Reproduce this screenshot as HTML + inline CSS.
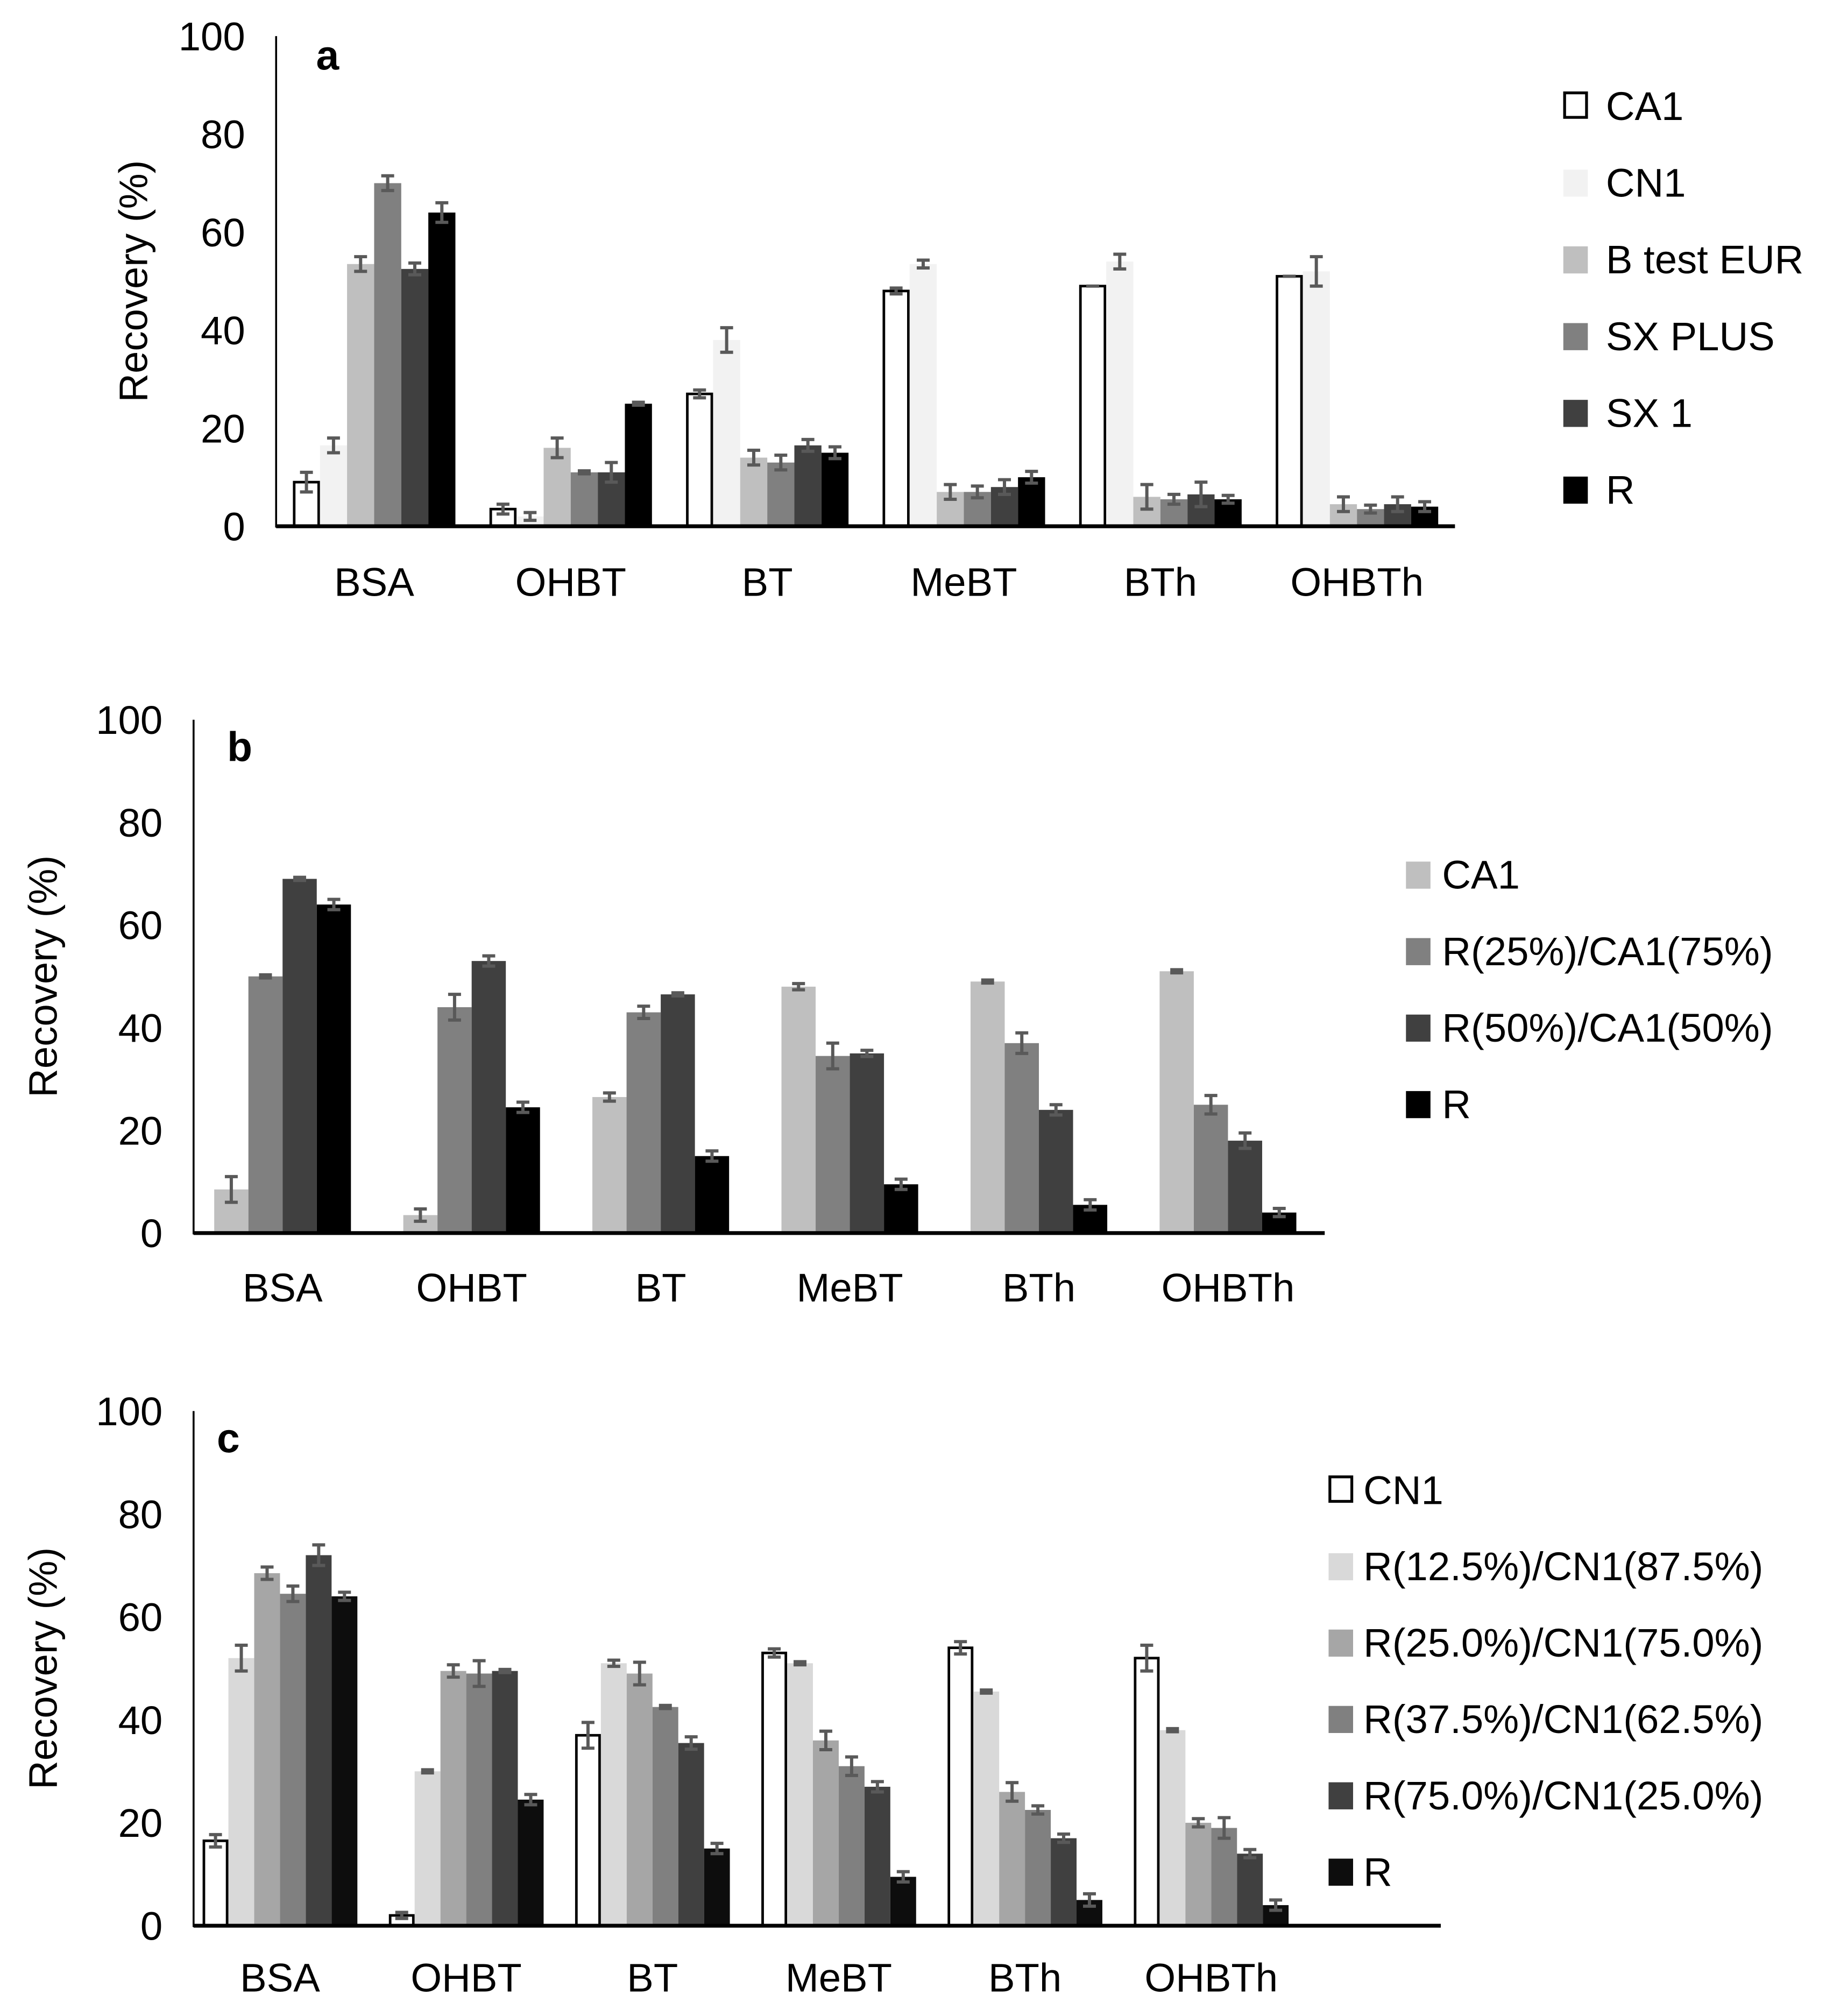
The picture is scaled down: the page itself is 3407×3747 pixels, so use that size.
<!DOCTYPE html>
<html><head><meta charset="utf-8">
<style>
html,body{margin:0;padding:0;background:#fff;}
svg{display:block;font-family:"Liberation Sans",Arial,sans-serif;}
</style></head>
<body>
<svg id="fig" width="3407" height="3747" viewBox="0 0 1421 1563" xmlns="http://www.w3.org/2000/svg"></svg>
<script>
// ---------- data ----------
const categories = ["BSA","OHBT","BT","MeBT","BTh","OHBTh"];
const yTicks = [0,20,40,60,80,100];

const seriesA = ["CA1","CN1","B test EUR","SX PLUS","SX 1","R"];
const valuesA = [
  [9,3.5,27,48,49,51],
  [16.5,2,38,53.5,54,52],
  [53.5,16,14,7,6,4.5],
  [70,11,13,7,5.5,3.5],
  [52.5,11,16.5,8,6.5,4.5],
  [64,25,15,10,5.5,4]
];
const errorsA = [
  [2,1,0.8,0.6,0,0],
  [1.5,0.8,2.5,0.8,1.5,3],
  [1.5,2,1.5,1.5,2.5,1.5],
  [1.5,0.3,1.5,1.2,1,0.8],
  [1.2,2,1.2,1.5,2.5,1.5],
  [2,0.3,1.2,1.2,0.8,1]
];
const seriesB = ["CA1","R(25%)/CA1(75%)","R(50%)/CA1(50%)","R"];
const valuesB = [
  [8.5,3.5,26.5,48,49,51],
  [50,44,43,34.5,37,25],
  [69,53,46.5,35,24,18],
  [64,24.5,15,9.5,5.5,4]
];
const errorsB = [
  [2.5,1.2,0.8,0.6,0.3,0.3],
  [0.3,2.5,1.2,2.5,2,1.8],
  [0.3,1,0.3,0.6,1,1.5],
  [1,1,1,1,1,0.8]
];
const seriesC = ["CN1","R(12.5%)/CN1(87.5%)","R(25.0%)/CN1(75.0%)","R(37.5%)/CN1(62.5%)","R(75.0%)/CN1(25.0%)","R"];
const valuesC = [
  [16.5,2,37,53,54,52],
  [52,30,51,51,45.5,38],
  [68.5,49.5,49,36,26,20],
  [64.5,49,42.5,31,22.5,19],
  [72,49.5,35.5,27,17,14],
  [64,24.5,15,9.5,5,4]
];
const errorsC = [
  [1.2,0.6,2.5,0.8,1.2,2.5],
  [2.5,0.3,0.6,0.3,0.3,0.3],
  [1.2,1.2,2.2,1.8,1.8,0.8],
  [1.5,2.5,0.3,1.8,0.8,2],
  [2,0.3,1.2,1,0.8,0.8],
  [0.8,1,1,1,1.2,1]
];

const colorsA = ["#ffffff","#f2f2f2","#bfbfbf","#808080","#404040","#000000"];
const colorsB = ["#bfbfbf","#808080","#404040","#000000"];
const colorsC = ["#ffffff","#d9d9d9","#a6a6a6","#808080","#404040","#0d0d0d"];

// ---------- layout ----------
const panels = [
  {id:"a", series:seriesA, values:valuesA, errors:errorsA, colors:colorsA,
   ax:214, y0:408, y100:28, xEnd:1128, c0:290, step:152.4, bw:21,
   ylabX:103, catY:451, letterX:245, letterY:54,
   legX:1212, legTX:1245, legY0:82, legStep:59.5},
  {id:"b", series:seriesB, values:valuesB, errors:errorsB, colors:colorsB,
   ax:150, y0:956, y100:558, xEnd:1027, c0:219, step:146.6, bw:26.5,
   ylabX:33, catY:998, letterX:176, letterY:590,
   legX:1090, legTX:1118, legY0:678, legStep:59.3},
  {id:"c", series:seriesC, values:valuesC, errors:errorsC, colors:colorsC,
   ax:150, y0:1493, y100:1094, xEnd:1117, c0:217, step:144.4, bw:20,
   ylabX:33, catY:1533, letterX:168, letterY:1126,
   legX:1030, legTX:1057, legY0:1155, legStep:59.2}
];

const NS="http://www.w3.org/2000/svg";
const svg=document.getElementById("fig");
function mk(tag,attrs,parent){const e=document.createElementNS(NS,tag);for(const k in attrs)e.setAttribute(k,attrs[k]);(parent||svg).appendChild(e);return e;}

panels.forEach(p=>{
  const g=mk("g",{});
  
  
  const y=v=>p.y0-(p.y0-p.y100)*v/100;
  const n=p.series.length;
  // bars
  p.series.forEach((s,si)=>{
    const sg=mk("g",{},g);
    
    
    categories.forEach((c,ci)=>{
      const v=p.values[si][ci], e=p.errors[si][ci];
      const x=p.c0+p.step*ci-n*p.bw/2+si*p.bw;
      const white=p.colors[si]==="#ffffff";
      const r=mk("rect",{x:x+(white?1:0),y:y(v),width:p.bw-(white?2:0),height:p.y0-y(v),fill:p.colors[si],stroke:white?"#000":"none","stroke-width":white?2:0},sg);
      
      
      const cx=x+p.bw/2;
      const eb=mk("path",{d:`M${cx},${y(v+e)}V${y(v-e)}M${cx-5},${y(v+e)}H${cx+5}M${cx-5},${y(v-e)}H${cx+5}`,stroke:"#595959","stroke-width":2.5,fill:"none"},sg);
      
      
    });
  });
  // axes
  const ya=mk("line",{x1:p.ax,y1:p.y100,x2:p.ax,y2:p.y0+1,stroke:"#000","stroke-width":1.5},g);
  
  
  const xa=mk("line",{x1:p.ax,y1:p.y0,x2:p.xEnd,y2:p.y0,stroke:"#000","stroke-width":3},g);
  
  
  yTicks.forEach(t=>{
    const tx=mk("text",{x:p.ax-24,y:y(t)+11,"text-anchor":"end","font-size":31,fill:"#000"},g);
    tx.textContent=t;
    
    
  });
  categories.forEach((c,ci)=>{
    const tx=mk("text",{x:p.c0+p.step*ci,y:p.catY+11,"text-anchor":"middle","font-size":31,fill:"#000"},g);
    tx.textContent=c;
    
    
  });
  const yl=mk("text",{x:0,y:0,transform:`translate(${p.ylabX+11},${(p.y0+p.y100)/2}) rotate(-90)`,"text-anchor":"middle","font-size":31,fill:"#000"},g);
  yl.textContent="Recovery (%)";
  
  
  const lt=mk("text",{x:p.letterX,y:p.letterY,"font-size":32,"font-weight":"bold",fill:"#000"},g);
  lt.textContent=p.id;
  
  
  // legend
  p.series.forEach((s,si)=>{
    const ly=p.legY0+p.legStep*si;
    const white=p.colors[si]==="#ffffff";
    const sw=mk("rect",{x:p.legX+(white?1:0),y:ly-10,width:white?17:19,height:white?19:21,fill:p.colors[si],stroke:white?"#000":"none","stroke-width":white?2.2:0},g);
    
    
    const tx=mk("text",{x:p.legTX,y:ly+11,"font-size":31,fill:"#000"},g);
    tx.textContent=s;
    
    
  });
});
</script>
</body></html>
